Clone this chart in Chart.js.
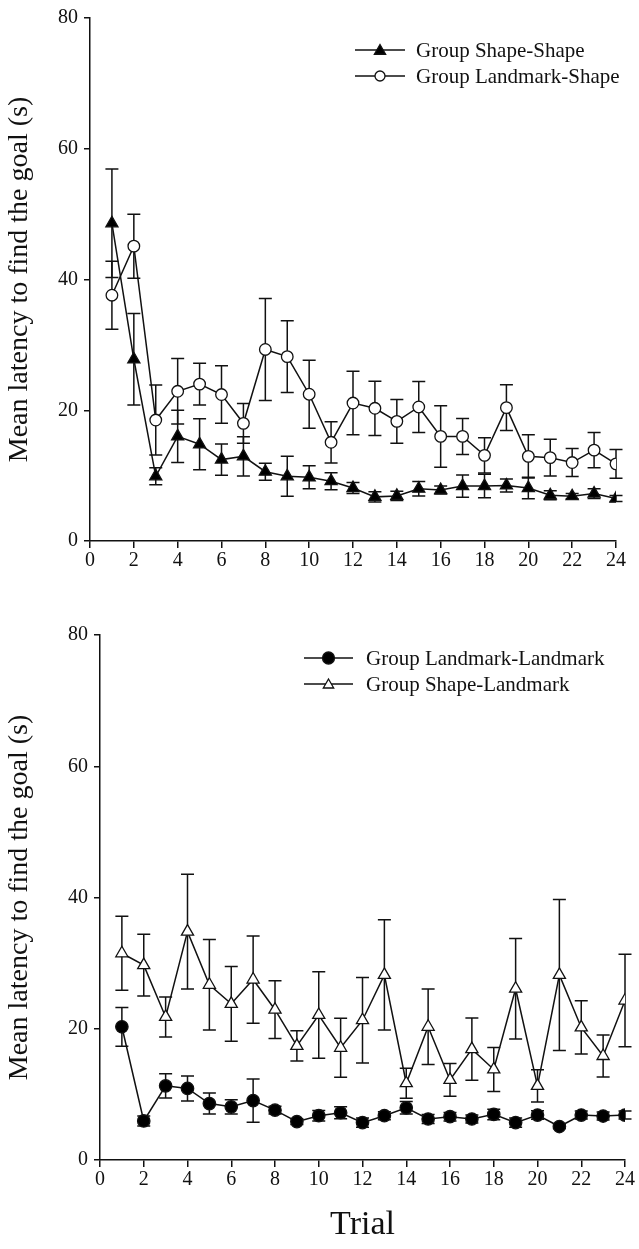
<!DOCTYPE html>
<html><head><meta charset="utf-8">
<script src="https://cdn.jsdelivr.net/npm/chart.js@4/dist/chart.umd.min.js"></script>
<style>
html,body{margin:0;padding:0;background:#fff;width:639px;height:1249px;overflow:hidden}
.wrap{position:absolute;left:0;width:639px}
#w1{top:0;height:600px}
#w2{top:600px;height:649px}
canvas{display:block}
</style></head><body>
<div class="wrap" id="w1"><canvas id="c1" width="639" height="600"></canvas></div>
<div class="wrap" id="w2"><canvas id="c2" width="639" height="649"></canvas></div>
<script>
// ---------- data ----------
const trials = [1,2,3,4,5,6,7,8,9,10,11,12,13,14,15,16,17,18,19,20,21,22,23,24];
const yTickValues = [0,20,40,60,80];
const xTickStep = 2;

const shapeShapeMean = [48.6,27.8,9.9,16.0,14.8,12.45,12.95,10.6,9.9,9.75,9.15,8.1,6.75,6.9,8.0,7.8,8.4,8.4,8.5,8.1,7.0,6.85,7.25,6.5];
const shapeShapeSem  = [8.3,7.0,1.3,4.0,3.9,2.4,3.0,1.3,3.05,1.75,1.3,0.85,0.8,0.7,1.1,0.6,1.7,1.8,1.0,1.65,0.7,0.4,0.75,0.45];

const landmarkShapeMean = [37.6,45.1,18.5,22.9,24.0,22.4,18.0,29.3,28.2,22.45,15.1,21.1,20.3,18.3,20.5,16.0,16.0,13.1,20.4,12.95,12.75,12.0,13.9,11.8];
const landmarkShapeSem  = [5.2,4.9,5.35,5.0,3.2,4.4,3.05,7.8,5.5,5.2,3.15,4.85,4.15,3.35,3.9,4.7,2.75,2.7,3.5,3.3,2.8,2.15,2.7,2.2];

const landmarkLandmarkMean = [20.3,5.95,11.3,10.9,8.6,8.1,9.05,7.6,5.85,6.75,7.2,5.7,6.75,7.95,6.25,6.6,6.25,6.95,5.7,6.85,5.1,6.85,6.7,6.85];
const landmarkLandmarkSem  = [2.95,0.75,1.85,1.9,1.6,1.1,3.3,0.6,0.45,0.8,0.9,0.7,0.6,0.95,0.7,0.65,0.6,0.8,0.7,0.65,0.3,0.6,0.6,0.6];

const shapeLandmarkMean = [31.5,29.7,21.8,34.8,26.7,23.8,27.5,22.9,17.4,22.1,17.1,21.3,28.2,11.7,20.3,12.2,16.9,13.8,26.1,11.3,28.2,20.2,15.85,24.3];
const shapeLandmarkSem  = [5.65,4.7,3.05,8.75,6.9,5.7,6.65,4.4,2.3,6.6,4.5,6.5,8.4,2.3,5.75,2.5,4.75,3.35,7.65,2.45,11.5,4.05,3.2,7.05];

const yTitle = 'Mean latency to find the goal (s)';
const xTitle = 'Trial';
// --------------------------

const FONT = '"Liberation Serif","Times New Roman",serif';
const INK = '#111';
Chart.defaults.font.family = FONT;
Chart.defaults.color = INK;

function pts(means){ return trials.map((t,i)=>({x:t, y:means[i]})); }

function marker(ctx, style, x, y, r, fill, lw){
  ctx.save();
  ctx.beginPath();
  if(style==='triangle'){
    ctx.moveTo(x, y - r);
    ctx.lineTo(x + r*Math.sin(2*Math.PI/3), y - r*Math.cos(2*Math.PI/3));
    ctx.lineTo(x + r*Math.sin(4*Math.PI/3), y - r*Math.cos(4*Math.PI/3));
    ctx.closePath();
  } else {
    ctx.arc(x, y, r, 0, Math.PI*2);
  }
  ctx.fillStyle = fill; ctx.fill();
  ctx.lineWidth = lw; ctx.strokeStyle = INK; ctx.stroke();
  ctx.restore();
}

const errorBars = {
  id:'errorBars',
  beforeDatasetsDraw(chart){
    const ctx = chart.ctx, ys = chart.scales.y;
    const cap = 6.5;
    chart.data.datasets.forEach((ds,i)=>{
      const meta = chart.getDatasetMeta(i);
      ctx.save();
      ctx.strokeStyle = INK; ctx.lineWidth = 1.5;
      meta.data.forEach((el,j)=>{
        const m = ds.data[j].y, e = ds.sem[j];
        const yt = ys.getPixelForValue(m+e), yb = ys.getPixelForValue(m-e);
        ctx.beginPath();
        ctx.moveTo(el.x, yt); ctx.lineTo(el.x, yb);
        ctx.moveTo(el.x-cap, yt); ctx.lineTo(el.x+cap, yt);
        ctx.moveTo(el.x-cap, yb); ctx.lineTo(el.x+cap, yb);
        ctx.stroke();
      });
      ctx.restore();
    });
  }
};

const boxLegend = {
  id:'boxLegend',
  afterDatasetsDraw(chart, args, opts){
    const ctx = chart.ctx;
    chart.data.datasets.forEach((ds,i)=>{
      const y = opts.y + i*opts.gap;
      ctx.save();
      ctx.strokeStyle = INK; ctx.lineWidth = 1.5;
      ctx.beginPath(); ctx.moveTo(opts.x, y); ctx.lineTo(opts.x+opts.len, y); ctx.stroke();
      ctx.restore();
      marker(ctx, ds.pointStyle, opts.x+opts.len/2, y + (ds.pointStyle==='triangle'?1:0), ds.legendRadius, ds.pointBackgroundColor, 1.3);
      ctx.save();
      ctx.fillStyle = INK; ctx.font = opts.fontSize + 'px ' + FONT;
      ctx.textBaseline = 'middle'; ctx.textAlign = 'left';
      ctx.fillText(ds.label, opts.textX, y+1);
      ctx.restore();
    });
  }
};

function makeChart(id, sets, cfg){
  return new Chart(document.getElementById(id), {
    type:'line',
    data:{ datasets: sets.map(s=>({
      label:s.label, data:pts(s.mean), sem:s.sem,
      pointStyle:s.style, pointRadius:s.r, pointHoverRadius:s.r,
      legendRadius:s.lr,
      pointBackgroundColor:s.fill, pointBorderColor:INK, pointBorderWidth:1.3,
      borderColor:INK, borderWidth:1.5, tension:0, fill:false
    }))},
    options:{
      responsive:false, animation:false, devicePixelRatio:1,
      layout:{ padding: cfg.padding },
      plugins:{ legend:{display:false}, tooltip:{enabled:false},
        boxLegend: cfg.legend },
      scales:{
        x:{ type:'linear', min:0, max:24,
          afterFit(s){ s.height = cfg.xHeight; },
          ticks:{ stepSize:xTickStep, font:{size:20}, color:INK, padding:1, maxRotation:0, autoSkip:false },
          grid:{ drawOnChartArea:false, drawTicks:true, tickLength:7, color:INK, lineWidth:1.5 },
          border:{ color:INK, width:1.5 },
          title:{ display:cfg.showX, text:xTitle, font:{size:34}, color:INK, padding:{top:0,bottom:cfg.xTitlePad} }
        },
        y:{ type:'linear', min:0, max:80,
          afterFit(s){ s.width = cfg.yWidth; },
          afterBuildTicks(s){ s.ticks = yTickValues.map(v=>({value:v})); },
          ticks:{ font:{size:20}, color:INK, padding:6 },
          grid:{ drawOnChartArea:false, drawTicks:true, tickLength:6, color:INK, lineWidth:1.5 },
          border:{ color:INK, width:1.5 },
          title:{ display:true, text:yTitle, font:{size:28}, color:INK, padding:{top:cfg.yTitlePad,bottom:0} }
        }
      }
    },
    plugins:[errorBars, boxLegend]
  });
}

makeChart('c1', [
  {label:'Group Shape-Shape', mean:shapeShapeMean, sem:shapeShapeSem, style:'triangle', r:7, lr:6.5, fill:'#000'},
  {label:'Group Landmark-Shape', mean:landmarkShapeMean, sem:landmarkShapeSem, style:'circle', r:5.8, lr:5, fill:'#fff'}
], { padding:{left:0, top:16, right:23, bottom:0}, xHeight:59, yWidth:90, showX:false, xTitlePad:0, yTitlePad:3,
     legend:{x:355, y:50, gap:26, len:50, textX:416, fontSize:21} });

makeChart('c2', [
  {label:'Group Landmark-Landmark', mean:landmarkLandmarkMean, sem:landmarkLandmarkSem, style:'circle', r:6.2, lr:6, fill:'#000'},
  {label:'Group Shape-Landmark', mean:shapeLandmarkMean, sem:shapeLandmarkSem, style:'triangle', r:7, lr:6, fill:'#fff'}
], { padding:{left:0, top:35, right:14, bottom:0}, xHeight:89, yWidth:100, showX:true, xTitlePad:4, yTitlePad:3,
     legend:{x:304, y:58, gap:26, len:49, textX:366, fontSize:21} });
</script>
</body></html>
